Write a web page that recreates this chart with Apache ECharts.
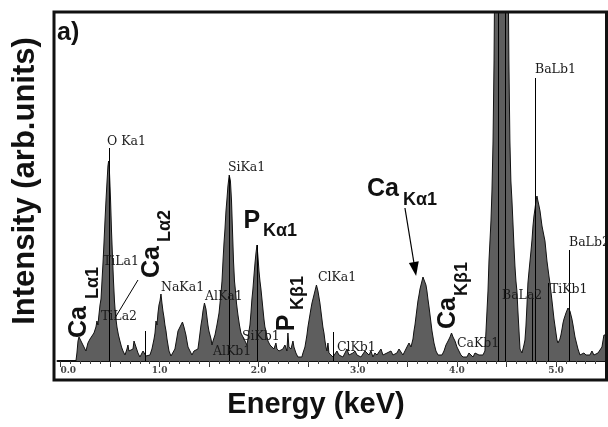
<!DOCTYPE html>
<html>
<head>
<meta charset="utf-8">
<script src="https://cdn.jsdelivr.net/npm/echarts@6/dist/echarts.min.js"></script>
<style>
html,body{margin:0;padding:0;background:#fff;}
#c{width:608px;height:427px;}
</style>
</head>
<body>
<div id="c"></div>
<script>
// ---- data ----
// energy (keV) and intensity (arb. units, 0..348 = frame height) of the spectrum outline
const energy = [-0.035,0.156,0.166,0.177,0.187,0.197,0.207,0.217,0.227,0.237,0.247,0.257,0.267,0.277,0.298,0.318,0.338,0.358,0.368,0.378,0.388,0.399,0.409,0.419,0.429,0.439,0.449,0.459,0.469,0.479,0.486,0.494,0.505,0.515,0.525,0.535,0.545,0.555,0.570,0.585,0.600,0.616,0.631,0.651,0.671,0.681,0.691,0.711,0.732,0.742,0.752,0.762,0.782,0.802,0.822,0.833,0.863,0.883,0.903,0.923,0.944,0.954,0.964,0.974,0.984,0.994,1.004,1.014,1.024,1.034,1.044,1.054,1.065,1.075,1.085,1.095,1.115,1.135,1.155,1.176,1.186,1.196,1.206,1.216,1.231,1.246,1.256,1.266,1.276,1.287,1.307,1.327,1.347,1.367,1.387,1.398,1.408,1.418,1.428,1.438,1.453,1.468,1.478,1.488,1.498,1.509,1.519,1.529,1.539,1.559,1.579,1.600,1.620,1.630,1.640,1.650,1.660,1.670,1.680,1.690,1.703,1.715,1.726,1.736,1.746,1.756,1.766,1.776,1.791,1.806,1.821,1.842,1.862,1.882,1.892,1.902,1.912,1.922,1.932,1.942,1.953,1.963,1.973,1.983,1.993,2.003,2.013,2.023,2.033,2.043,2.053,2.063,2.074,2.084,2.094,2.114,2.134,2.154,2.174,2.184,2.205,2.225,2.245,2.265,2.285,2.295,2.305,2.326,2.346,2.356,2.376,2.396,2.416,2.436,2.447,2.467,2.477,2.487,2.497,2.507,2.517,2.527,2.538,2.548,2.558,2.568,2.583,2.598,2.608,2.618,2.628,2.638,2.648,2.659,2.669,2.679,2.689,2.699,2.709,2.729,2.750,2.770,2.790,2.810,2.830,2.850,2.871,2.891,2.911,2.931,2.951,2.972,2.992,3.012,3.032,3.052,3.073,3.093,3.113,3.133,3.153,3.173,3.194,3.214,3.234,3.254,3.274,3.295,3.315,3.335,3.355,3.375,3.395,3.416,3.436,3.456,3.476,3.496,3.517,3.537,3.557,3.567,3.577,3.587,3.597,3.607,3.618,3.628,3.638,3.648,3.658,3.668,3.678,3.688,3.698,3.708,3.719,3.729,3.739,3.749,3.759,3.769,3.779,3.789,3.810,3.830,3.850,3.870,3.890,3.911,3.931,3.946,3.961,3.981,4.001,4.021,4.041,4.062,4.082,4.102,4.122,4.142,4.163,4.183,4.203,4.223,4.243,4.263,4.283,4.294,4.304,4.314,4.324,4.334,4.344,4.354,4.365,4.375,4.384,4.445,4.515,4.525,4.535,4.545,4.556,4.566,4.576,4.586,4.596,4.606,4.616,4.627,4.637,4.657,4.667,4.677,4.687,4.697,4.707,4.717,4.728,4.738,4.748,4.758,4.768,4.778,4.788,4.798,4.808,4.818,4.829,4.839,4.859,4.879,4.889,4.909,4.929,4.939,4.960,4.980,5.000,5.010,5.020,5.030,5.040,5.050,5.061,5.071,5.081,5.091,5.101,5.111,5.121,5.131,5.141,5.151,5.161,5.172,5.182,5.192,5.202,5.212,5.222,5.232,5.242,5.262,5.282,5.303,5.323,5.343,5.363,5.383,5.403,5.424,5.444,5.464,5.474,5.484,5.494,5.504,5.514,5.524];
const intensity = [0,0,8,20,24,22,25,18,20,14,12,10,14,18,22,20,28,34,40,36,46,56,62,80,98,118,140,160,178,195,200,190,162,130,104,80,60,46,34,26,20,14,10,6,12,16,10,8,12,20,22,14,8,4,6,10,5,4,6,12,22,28,40,36,48,56,60,67,58,50,44,36,30,22,16,10,5,6,12,24,30,28,34,36,39,34,30,26,20,14,10,6,10,8,12,20,28,36,42,50,58,52,44,36,30,26,22,16,20,26,36,48,68,80,100,118,132,150,162,175,186,180,160,130,100,80,70,58,46,36,28,24,20,16,22,30,36,48,62,72,86,98,108,116,104,90,80,72,62,52,42,34,30,24,20,16,14,12,18,12,10,8,12,16,10,28,14,12,20,14,8,4,2,4,8,14,20,26,34,40,46,52,58,62,66,70,76,70,64,58,50,42,34,28,20,14,10,18,8,6,4,6,10,6,8,4,8,12,6,4,8,10,6,8,4,6,10,12,6,10,4,8,6,8,12,6,4,8,6,10,6,4,8,12,10,6,10,14,18,14,22,30,36,44,52,60,66,72,76,80,84,86,82,76,70,62,54,46,38,30,24,18,14,10,6,4,6,10,16,20,24,28,24,20,14,10,6,4,6,4,8,6,4,8,10,6,4,6,10,30,50,70,100,120,140,170,220,300,420,440,420,300,220,180,160,138,115,95,80,70,50,30,12,8,10,16,21,35,55,78,90,100,110,121,135,145,152,160,165,160,155,150,135,125,120,100,85,78,60,42,28,21,18,18,22,26,32,38,42,44,48,50,53,55,50,46,42,36,30,24,20,16,12,10,6,4,8,6,4,6,10,6,4,8,10,14,20,26,28,24,26,30];

// axis ticks / labels
const tickLabels = [0, 1, 2, 3, 4, 5];
const majorTicks = [0, 0.5, 1, 1.5, 2, 2.5, 3, 3.5, 4, 4.5, 5, 5.5];
const minorTicks = [];
for (let k = 0; k <= 55; k++) minorTicks.push(+(k / 10).toFixed(1));

// line-identification labels: [text, energy (left edge), intensity (text middle)]
const lineLabels = [
  ['O Ka1', 0.469, 219], ['SiKa1', 1.690, 193], ['BaLb1', 4.788, 291],
  ['BaLb2', 5.131, 118], ['TiKb1', 4.939, 71], ['BaLa2', 4.455, 65],
  ['CaKb1', 4.001, 17], ['ClKa1', 2.598, 83], ['ClKb1', 2.790, 13],
  ['NaKa1', 1.014, 73], ['AlKa1', 1.458, 64], ['SiKb1', 1.831, 24],
  ['TiLa1', 0.429, 99], ['TiLa2', 0.409, 44], ['AlKb1', 1.539, 9]
];
// leader lines: [energy, top intensity]
const leaderLines = [
  [0.489, 213], [1.705, 185], [4.788, 283], [5.131, 111], [0.853, 30],
  [2.750, 29], [4.42, 348], [4.49, 348], [4.919, 78], [4.758, 63], [1.983, 116]
];
// big annotations: main text, subscript, main centre [E,I], sub centre [E,I], vertical?
const bigLabels = [
  ['Ca', 'L\u03b11', [0.187, 39], [0.328, 78], true],
  ['Ca', 'L\u03b12', [0.923, 99], [1.054, 135], true],
  ['P', 'K\u03b11', [1.932, 140], [2.215, 130], false],
  ['P', 'K\u03b21', [2.285, 38], [2.396, 68], true],
  ['Ca', 'K\u03b11', [3.254, 172], [3.628, 161], false],
  ['Ca', 'K\u03b21', [3.910, 48], [4.052, 82], true]
];
const caLa2Leader = [[0.782, 81], [0.550, 43]];
const caKaArrow = [[3.476, 153], [3.577, 92]];

// ---- chart ----
const chart = echarts.init(document.getElementById('c'), null, {renderer: 'canvas'});
const spectrum = energy.map((e, k) => [e, intensity[k]]);

const option = {
  animation: false,
  backgroundColor: '#fff',
  grid: {left: 57.5, right: 0, top: 13, bottom: 66},
  xAxis: [{
    type: 'value', min: -0.03, max: 5.525, position: 'bottom',
    splitLine: {show: false},
    axisLine: {show: true, onZero: false, lineStyle: {color: '#111', width: 2}},
    axisTick: {show: true, customValues: majorTicks, length: 6, lineStyle: {color: '#333', width: 1}},
    axisLabel: {show: true, customValues: tickLabels, margin: 5, alignMinLabel: 'left',
      formatter: v => Number(v).toFixed(1),
      fontFamily: 'DejaVu Serif', fontWeight: 'bold', fontSize: 9, color: '#444'}
  }, {
    type: 'value', min: -0.03, max: 5.525, position: 'bottom',
    splitLine: {show: false},
    axisLine: {show: false},
    axisTick: {show: true, customValues: minorTicks, length: 3, lineStyle: {color: '#444', width: 1}},
    axisLabel: {show: false}
  }],
  yAxis: {type: 'value', min: 0, max: 348, show: false},
  series: [{
    type: 'line', name: 'spectrum', data: spectrum, xAxisIndex: 0,
    symbol: 'none', clip: true,
    lineStyle: {color: '#111', width: 1},
    areaStyle: {color: '#5e5e5e', opacity: 1},
    markLine: {
      silent: true, symbol: ['none', 'none'], animation: false,
      label: {show: false},
      lineStyle: {color: '#000', width: 1, type: 'solid'},
      data: leaderLines.map(([e, top]) => [{coord: [e, 0]}, {coord: [e, top]}])
        .concat([[{coord: caLa2Leader[0]}, {coord: caLa2Leader[1]}]])
    }
  }, {
    type: 'line', data: [], xAxisIndex: 0,
    markLine: {
      silent: true, symbol: ['none', 'triangle'], symbolSize: [10, 14], animation: false,
      label: {show: false},
      lineStyle: {color: '#000', width: 1.2, type: 'solid'},
      itemStyle: {color: '#000'},
      data: [[{coord: caKaArrow[0]}, {coord: caKaArrow[1]}]]
    }
  }]
};
chart.setOption(option);

const px = (e, i) => chart.convertToPixel({gridIndex: 0}, [e, i]);
const g = [];
// frame
g.push({type: 'rect', z: 100, shape: {x: 54, y: 12, width: 552.5, height: 368},
  style: {fill: 'none', stroke: '#111', lineWidth: 3}});
// panel tag
g.push({type: 'text', z: 100, x: 57, y: 33,
  style: {text: 'a)', font: 'bold 25px "Liberation Sans", Arial, sans-serif', fill: '#111',
    align: 'left', verticalAlign: 'middle'}});
// axis titles
g.push({type: 'text', z: 100, x: 316, y: 405,
  style: {text: 'Energy (keV)', font: 'bold 29px "Liberation Sans", Arial, sans-serif', fill: '#111',
    align: 'center', verticalAlign: 'middle'}});
g.push({type: 'text', z: 100, x: 25, y: 181, rotation: Math.PI / 2,
  style: {text: 'Intensity (arb.units)', font: 'bold 31px "Liberation Sans", Arial, sans-serif', fill: '#111',
    align: 'center', verticalAlign: 'middle'}});
// small line labels
lineLabels.forEach(([t, e, i]) => {
  const p = px(e, i);
  g.push({type: 'text', z: 90, x: p[0], y: p[1],
    style: {text: t, font: '12.5px "DejaVu Serif", serif', fill: '#1a1a1a',
      align: 'left', verticalAlign: 'middle'}});
});
// big annotations
bigLabels.forEach(([m, s, mc, sc, vert]) => {
  const a = px(mc[0], mc[1]);
  const b = px(sc[0], sc[1]);
  g.push({type: 'text', z: 90, x: a[0], y: a[1], rotation: vert ? Math.PI / 2 : 0,
    style: {text: m, font: 'bold 25px "Liberation Sans", Arial, sans-serif', fill: '#111',
      align: 'center', verticalAlign: 'middle'}});
  g.push({type: 'text', z: 90, x: b[0], y: b[1], rotation: vert ? Math.PI / 2 : 0,
    style: {text: s, font: 'bold 18px "Liberation Sans", Arial, sans-serif', fill: '#111',
      align: 'center', verticalAlign: 'middle'}});
});
chart.setOption({graphic: g});
</script>
</body>
</html>
